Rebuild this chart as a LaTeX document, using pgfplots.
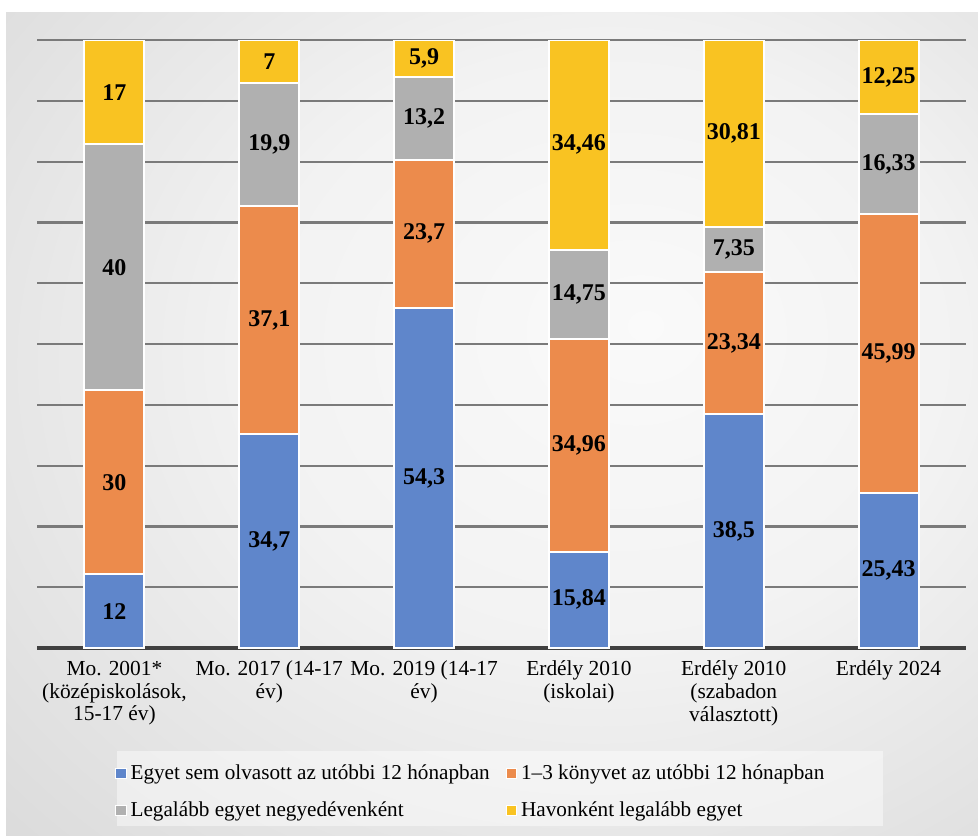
\documentclass[border=0pt]{standalone}
\usepackage{pgfplots}
\usepackage{pgfplotstable}
\pgfplotsset{compat=1.18}
\usepackage{fontspec}
\setmainfont{Liberation Serif}

\definecolor{cblue}{HTML}{5F86CB}
\definecolor{corange}{HTML}{EC8B4C}
\definecolor{cgrey}{HTML}{B0B0B0}
\definecolor{cyellow}{HTML}{F9C322}

\pgfdeclareradialshading{bgshade}{\pgfpoint{8bp}{6bp}}{%
  color(0bp)=(white!98!black); color(18bp)=(white!95!black);
  color(45bp)=(white!84!black); color(75bp)=(white!77!black)}

% raw values, each group is normalised to 100 %
\pgfplotstableread{
x a b c d
0 12 30 40 17
1 34.7 37.1 19.9 7
2 54.3 23.7 13.2 5.9
3 15.84 34.96 14.75 34.46
4 38.5 23.34 7.35 30.81
5 25.43 45.99 16.33 12.25
}\data
\pgfplotstablecreatecol[create col/expr={\thisrow{a}+\thisrow{b}+\thisrow{c}+\thisrow{d}}]{t}{\data}

\pgfplotsset{
  common/.style={
    scale only axis, width=464.5pt, height=304pt,
    at={(18.5pt,-324pt)}, anchor=south west,
    xmin=-0.5, xmax=5.5, ymin=0, ymax=100,
  },
  sq/.style={legend image code/.code={\draw[white, fill=#1, line width=0.5pt] (0pt,-2.6pt) rectangle (5.2pt,2.6pt);}},
}

\begin{document}
\begin{tikzpicture}
\useasboundingbox (0,0) rectangle (489pt,-417.5pt);
\shade[shading=bgshade] (3pt,-6pt) rectangle (489pt,-417.5pt);
\fill[white, opacity=0.45] (58.5pt,-375.5pt) rectangle (441.5pt,-413pt);

\begin{axis}[common,
  ybar stacked, bar width=30pt,
  axis lines*=left,
  y axis line style={draw=none},
  x axis line style={line width=2pt, color=black!75},
  ytick={0,10,...,100}, yticklabels={},
  ymajorgrids, grid style={line width=1.1pt, color=black!52},
  xtick=data, xticklabels={
    {Mo. 2001*\\(középiskolások,\\15-17 év)},
    {Mo. 2017 (14-17\\év)},
    {Mo. 2019 (14-17\\év)},
    {Erdély 2010\\(iskolai)},
    {Erdély 2010\\(szabadon\\választott)},
    {Erdély 2024}},
  xticklabel style={align=center, font=\fontsize{10.7}{11.4}\selectfont, yshift=-3pt},
  major tick length=0pt,
  legend columns=2,
  legend style={at={(0.468,-0.178)}, anchor=north, draw=none, fill=none,
    font=\fontsize{10.6}{12}\selectfont, row sep=5.5pt,
    /tikz/every even column/.append style={column sep=6pt}},
  legend cell align=left,
]
\addplot[fill=cblue, draw=white, line width=1pt, sq=cblue] table[x=x, y expr=\thisrow{a}*100/\thisrow{t}] {\data};
\addplot[fill=corange, draw=white, line width=1pt, sq=corange] table[x=x, y expr=\thisrow{b}*100/\thisrow{t}] {\data};
\addplot[fill=cgrey, draw=white, line width=1pt, sq=cgrey] table[x=x, y expr=\thisrow{c}*100/\thisrow{t}] {\data};
\addplot[fill=cyellow, draw=white, line width=1pt, sq=cyellow] table[x=x, y expr=\thisrow{d}*100/\thisrow{t}] {\data};
\legend{Egyet sem olvasott az utóbbi 12 hónapban, 1–3 könyvet az utóbbi 12 hónapban,
  Legalább egyet negyedévenként, Havonként legalább egyet}
\end{axis}

\begin{axis}[common, hide axis,
  point meta=explicit,
  nodes near coords,
  every node near coord/.append style={anchor=center, font=\bfseries\fontsize{12}{12}\selectfont},
  /pgf/number format/.cd, use comma, precision=2, assume math mode=true,
]
\addplot[only marks, mark=none] table[x=x, y expr={(\thisrow{a}/2)*100/\thisrow{t}}, meta=a] {\data};
\addplot[only marks, mark=none] table[x=x, y expr={(\thisrow{a}+\thisrow{b}/2)*100/\thisrow{t}}, meta=b] {\data};
\addplot[only marks, mark=none] table[x=x, y expr={(\thisrow{a}+\thisrow{b}+\thisrow{c}/2)*100/\thisrow{t}}, meta=c] {\data};
\addplot[only marks, mark=none] table[x=x, y expr={(\thisrow{a}+\thisrow{b}+\thisrow{c}+\thisrow{d}/2)*100/\thisrow{t}}, meta=d] {\data};
\end{axis}
\end{tikzpicture}
\end{document}
